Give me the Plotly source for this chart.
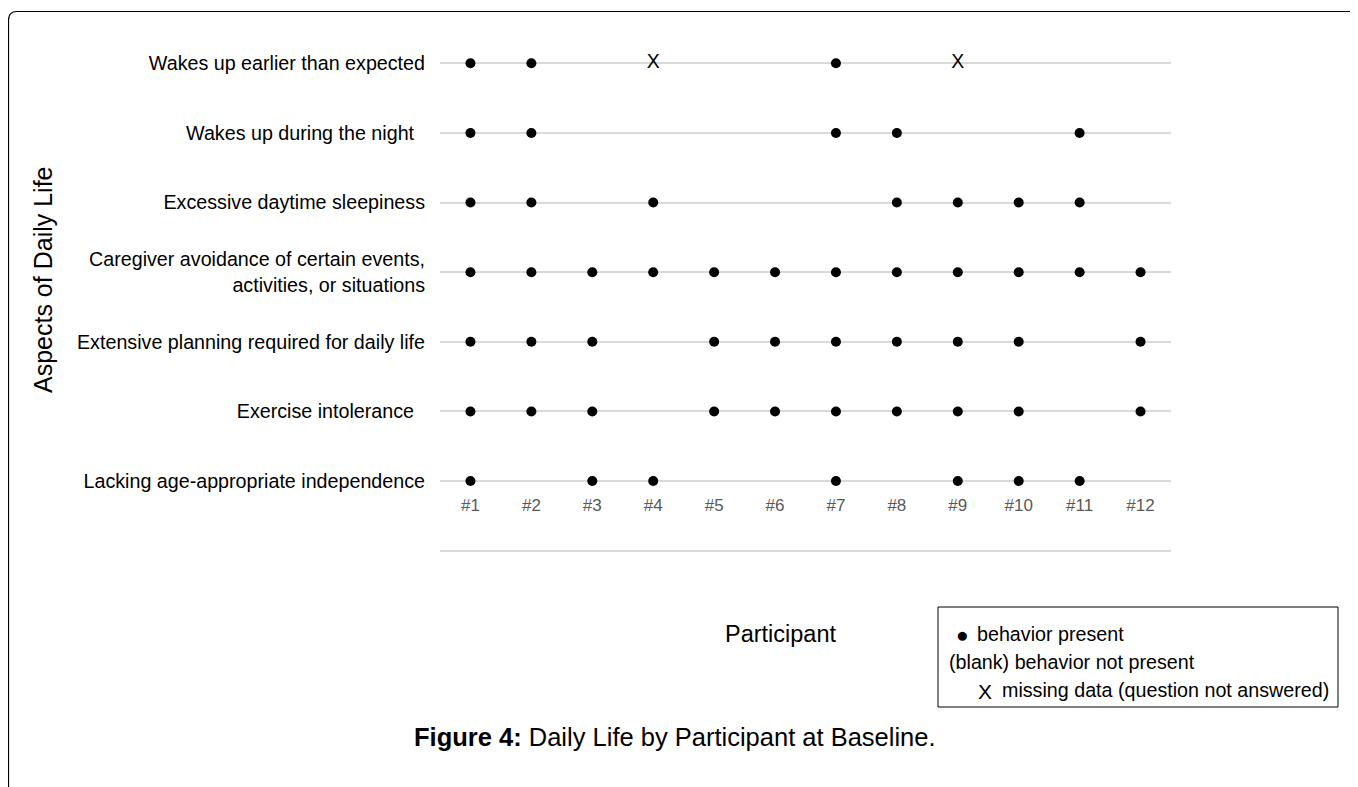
import plotly.graph_objects as go

# participants along the x axis
participants = [f"#{i}" for i in range(1, 13)]

# aspects from top row to bottom row
aspects = [
    "Wakes up earlier than expected",
    "Wakes up during the night\u00a0\u00a0",
    "Excessive daytime sleepiness",
    "Caregiver avoidance of certain events,<br>activities, or situations",
    "Extensive planning required for daily life",
    "Exercise intolerance\u00a0\u00a0",
    "Lacking age-appropriate independence",
]

# 1 = behavior present, 0 = not present (blank), -1 = missing data
wakes_early = [1, 1, 0, -1, 0, 0, 1, 0, -1, 0, 0, 0]
wakes_night = [1, 1, 0, 0, 0, 0, 1, 1, 0, 0, 1, 0]
daytime_sleepiness = [1, 1, 0, 1, 0, 0, 0, 1, 1, 1, 1, 0]
caregiver_avoidance = [1, 1, 1, 1, 1, 1, 1, 1, 1, 1, 1, 1]
extensive_planning = [1, 1, 1, 0, 1, 1, 1, 1, 1, 1, 0, 1]
exercise_intolerance = [1, 1, 1, 0, 1, 1, 1, 1, 1, 1, 0, 1]
lacking_independence = [1, 0, 1, 1, 0, 0, 1, 0, 1, 1, 1, 0]

rows = [
    wakes_early,
    wakes_night,
    daytime_sleepiness,
    caregiver_avoidance,
    extensive_planning,
    exercise_intolerance,
    lacking_independence,
]

FONT = "Liberation Sans, Arial, sans-serif"

# figure size / plot area in figure pixels (page has an 8px body margin)
OFF = 8
W, H = 1350, 779
L, R, T, B = 432, 1163, 24, 574


def px(x):
    # page x -> paper x
    return (x - OFF - L) / (R - L)


def py(y):
    # page y -> paper y
    return (B - (y - OFF)) / (B - T)


n_rows = len(aspects)
row_y = [n_rows - i for i in range(n_rows)]  # 7 .. 1, row 0 is the empty bottom line

present_x, present_y, missing_x, missing_y = [], [], [], []
for yv, vals in zip(row_y, rows):
    for p, v in zip(participants, vals):
        if v == 1:
            present_x.append(p)
            present_y.append(yv)
        elif v == -1:
            missing_x.append(p)
            missing_y.append(yv)

fig = go.Figure()
fig.add_trace(
    go.Scatter(
        x=present_x,
        y=present_y,
        mode="markers",
        marker=dict(color="black", size=10),
        name="behavior present",
        showlegend=False,
    )
)
fig.add_trace(
    go.Scatter(
        x=missing_x,
        y=missing_y,
        mode="text",
        text=["X"] * len(missing_x),
        textposition="middle center",
        textfont=dict(family=FONT, size=19.5, color="black"),
        name="missing data",
        showlegend=False,
    )
)

fig.update_layout(
    width=W,
    height=H,
    margin=dict(l=L, r=W - R, t=T, b=H - B),
    plot_bgcolor="white",
    paper_bgcolor="white",
    font=dict(family=FONT, color="black"),
    showlegend=False,
    xaxis=dict(
        type="category",
        categoryorder="array",
        categoryarray=participants,
        range=[-0.5, len(participants) - 0.5],
        showgrid=False,
        zeroline=False,
        showline=False,
        ticks="",
        anchor="free",
        position=py(493),
        tickfont=dict(size=17, color="#595959"),
    ),
    yaxis=dict(
        range=[-0.45, n_rows + 0.45],
        tickvals=[0] + row_y,
        ticktext=[""] + aspects,
        showgrid=True,
        gridcolor="#d9d9d9",
        gridwidth=1.5,
        zeroline=False,
        showline=False,
        ticks="",
        ticklabelstandoff=14,
        tickfont=dict(size=19.7, color="black"),
    ),
)

# outer frame with rounded top-left corner
fig.add_shape(
    type="path",
    xref="paper",
    yref="paper",
    path=(
        f"M {px(8.5)},{py(800)} L {px(8.5)},{py(20)} "
        f"Q {px(8.5)},{py(11.5)} {px(17)},{py(11.5)} L {px(1370)},{py(11.5)}"
    ),
    line=dict(color="black", width=1.2),
)

# axis titles
fig.add_annotation(
    x=px(43), y=py(280), xref="paper", yref="paper",
    xanchor="center", yanchor="middle",
    text="Aspects of Daily Life", textangle=-90, showarrow=False,
    font=dict(size=25, color="black"),
)
fig.add_annotation(
    x=px(780), y=py(634), xref="paper", yref="paper",
    xanchor="center", yanchor="middle",
    text="Participant", showarrow=False,
    font=dict(size=23.5, color="black"),
)

# legend box
fig.add_shape(
    type="rect", xref="paper", yref="paper",
    x0=px(938), x1=px(1338), y0=py(707), y1=py(607),
    line=dict(color="black", width=1),
)
legend_items = [
    (962, 634, "\u25cf", 21, "center"),
    (975, 634, "behavior present", 19.7, "left"),
    (947, 662, "(blank) behavior not present", 19.7, "left"),
    (985, 691, "X", 21, "center"),
    (1000, 690, "missing data (question not answered)", 19.7, "left"),
]
for x, y, t, s, a in legend_items:
    fig.add_annotation(
        x=px(x), y=py(y), xref="paper", yref="paper", text=t, showarrow=False,
        xanchor=a, yanchor="middle", font=dict(size=s, color="black"),
    )

# figure caption
fig.add_annotation(
    x=px(675), y=py(737), xref="paper", yref="paper",
    xanchor="center", yanchor="middle",
    text="<b>Figure 4:</b> Daily Life by Participant at Baseline.",
    showarrow=False, font=dict(size=25.5, color="black"),
)

fig.write_html("out.html")
